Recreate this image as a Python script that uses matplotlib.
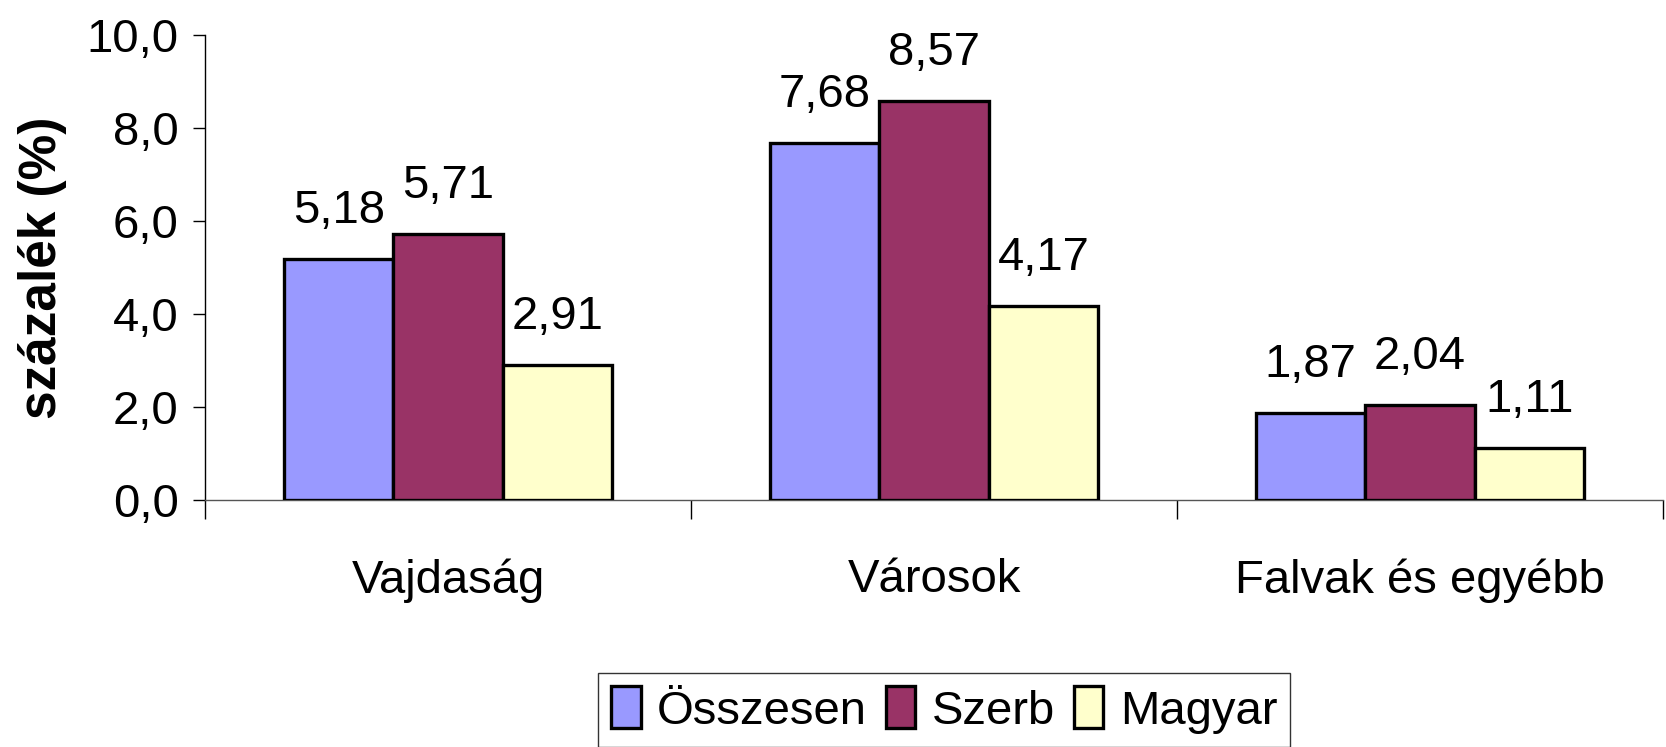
import matplotlib.pyplot as plt
import numpy as np

# Categories and series
categories = ['Vajdaság', 'Városok', 'Falvak és egyébb']
series_names = ['Összesen', 'Szerb', 'Magyar']
osszesen = [5.18, 7.68, 1.87]
szerb = [5.71, 8.57, 2.04]
magyar = [2.91, 4.17, 1.11]
colors = ['#9999FF', '#993366', '#FFFFCC']

plt.rcParams['font.family'] = ['Liberation Sans', 'DejaVu Sans']
FS = 34

fig = plt.figure(figsize=(16.66, 7.47), dpi=100)
ax = fig.add_axes([205 / 1666, 1 - 500 / 747, 1458 / 1666, 465 / 747])

x = np.arange(len(categories))
w = 0.225
values = [osszesen, szerb, magyar]
for i, (vals, name, col) in enumerate(zip(values, series_names, colors)):
    bars = ax.bar(x + (i - 1) * w, vals, w, color=col, edgecolor='black',
                  linewidth=2.4, label=name, zorder=3)
    for b, v in zip(bars, vals):
        ax.annotate(f'{v:.2f}'.replace('.', ','),
                    (b.get_x() + b.get_width() / 2, b.get_height()),
                    xytext=(0, 26), textcoords='offset points',
                    ha='center', va='baseline', fontsize=FS)

ax.set_xlim(-0.5, 2.5)
ax.set_ylim(0, 10)
ax.set_yticks(np.arange(0, 10.1, 2))
ax.set_yticklabels([f'{t:.1f}'.replace('.', ',') for t in np.arange(0, 10.1, 2)])
ax.set_xticks(x)
ax.set_xticklabels(categories)
ax.set_xticks([-0.5, 0.5, 1.5, 2.5], minor=True)

ax.tick_params(axis='y', length=9, width=1, pad=10, labelsize=FS, direction='out')
ax.tick_params(axis='x', which='major', length=0, pad=42, labelsize=FS)
ax.tick_params(axis='x', which='minor', length=14, width=1, direction='out')

for s in ['top', 'right']:
    ax.spines[s].set_visible(False)
ax.spines['left'].set_linewidth(1)
ax.spines['bottom'].set_linewidth(1)
ax.spines['bottom'].set_color('#555555')

ax.set_ylabel('százalék (%)', fontsize=37, fontweight='bold', labelpad=14)

leg = fig.legend(loc='upper left', bbox_to_anchor=(598 / 1666, 1 - 673 / 747),
                 ncol=3, fontsize=FS, frameon=True, fancybox=False,
                 edgecolor='black', handlelength=0.62, handleheight=1.0,
                 handletextpad=0.35, columnspacing=0.4, borderpad=0.28,
                 borderaxespad=0)
leg.get_frame().set_linewidth(1)

fig.savefig('out.png', dpi=100)
